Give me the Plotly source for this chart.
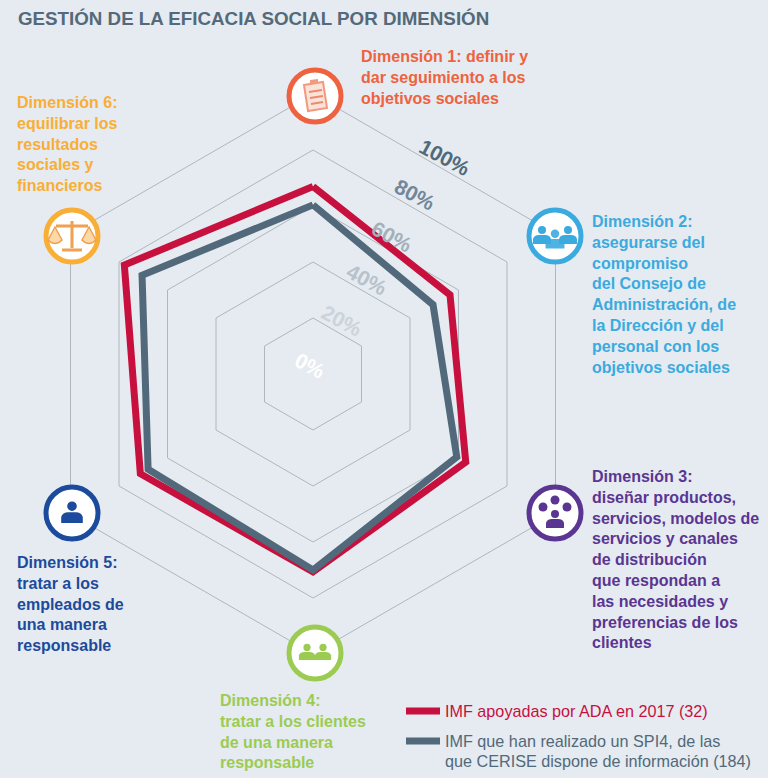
import plotly.graph_objects as go

dimensions = ["Dimensión 1", "Dimensión 2", "Dimensión 3", "Dimensión 4", "Dimensión 5", "Dimensión 6"]
ada_2017 = [67, 56.5, 63, 70.7, 71.2, 77.8]
spi4 = [60.4, 49.5, 59.3, 70, 68, 70.5]
grid_ticks = [20, 40, 60, 80, 100]
scale_labels = ["0%", "20%", "40%", "60%", "80%", "100%"]
scale_colors = ["#ffffff", "#ccd3da", "#b8c2ca", "#a3afb9", "#73879a", "#51697a"]
scale_px = [(310, 365), (342, 320), (367, 279), (392, 236), (415, 194), (445, 157)]

dim_texts = [
    "Dimensión 1: definir y<br>dar seguimiento a los<br>objetivos sociales",
    "Dimensión 2:<br>asegurarse del<br>compromiso<br>del Consejo de<br>Administración, de<br>la Dirección y del<br>personal con los<br>objetivos sociales",
    "Dimensión 3:<br>diseñar productos,<br>servicios, modelos de<br>servicios y canales<br>de distribución<br>que respondan a<br>las necesidades y<br>preferencias de los<br>clientes",
    "Dimensión 4:<br>tratar a los clientes<br>de una manera<br>responsable",
    "Dimensión 5:<br>tratar a los<br>empleados de<br>una manera<br>responsable",
    "Dimensión 6:<br>equilibrar los<br>resultados<br>sociales y<br>financieros",
]
dim_colors = ["#ee6240", "#3baadf", "#5b3592", "#9ccb52", "#1c4a9c", "#f9ae35"]
dim_text_px = [(359, 46), (590, 211), (590, 466), (218, 690), (15, 552), (15, 92)]
icon_px = [(315, 96), (555, 236), (555, 513), (315, 653), (72, 513), (72, 236)]

W, H = 768, 778
CX, CY, R = 313, 374, 280
BG = "#e5ebf0"

fig = go.Figure()
fig.add_trace(go.Scatterpolar(
    r=ada_2017 + ada_2017[:1], theta=dimensions + dimensions[:1], mode="lines",
    line=dict(color="#c8103f", width=7), legendgroup="a",
    name='<span style="color:#c8103f">IMF apoyadas por ADA en 2017 (32)</span>'))
fig.add_trace(go.Scatterpolar(
    r=spi4 + spi4[:1], theta=dimensions + dimensions[:1], mode="lines",
    line=dict(color="#51697a", width=7), legendgroup="b",
    name='<span style="color:#51697a">IMF que han realizado un SPI4, de las</span>'))

# hidden pixel canvas for icons and labels
fig.add_trace(go.Scatter(x=[], y=[], xaxis="x", yaxis="y", showlegend=False))

shapes, annos = [], []
FONT = "Liberation Sans, Arial, sans-serif"

annos.append(dict(x=16, y=18, xref="x", yref="y", xanchor="left", yanchor="middle", showarrow=False,
                  text="<b>GESTIÓN DE LA EFICACIA SOCIAL POR DIMENSIÓN</b>",
                  font=dict(family=FONT, size=18.75, color="#54697a")))
annos.append(dict(x=443, y=761, xref="x", yref="y", xanchor="left", yanchor="middle", showarrow=False,
                  text="que CERISE dispone de información (184)",
                  font=dict(family=FONT, size=16.2, color="#51697a")))
for lab, col, (x, y) in zip(scale_labels, scale_colors, scale_px):
    annos.append(dict(x=x, y=y, xref="x", yref="y", showarrow=False, text="<b>%s</b>" % lab, textangle=28,
                      font=dict(family=FONT, size=21, color=col)))
for txt, col, (x, y) in zip(dim_texts, dim_colors, dim_text_px):
    annos.append(dict(x=x, y=y, xref="x", yref="y", xanchor="left", yanchor="top", align="left", showarrow=False,
                      text="<b>%s</b>" % txt, font=dict(family=FONT, size=16, color=col)))
for col, (x, y) in zip(dim_colors, icon_px):
    shapes.append(dict(type="circle", xref="x", yref="y", x0=x-26, x1=x+26, y0=y-26, y1=y+26,
                       fillcolor="#ffffff", line=dict(color=col, width=5), layer="above"))

def person(x, y, s, col, op=1.0):
    return [
        dict(type="circle", xref="x", yref="y", x0=x-4*s, x1=x+4*s, y0=y-8*s, y1=y, fillcolor=col,
             line=dict(width=0), layer="above", opacity=op),
        dict(type="path", xref="x", yref="y",
             path=f"M{x-9*s},{y+10*s} L{x-9*s},{y+5*s} Q{x-8*s},{y+1*s} {x-3*s},{y+1*s} L{x+3*s},{y+1*s} Q{x+8*s},{y+1*s} {x+9*s},{y+5*s} L{x+9*s},{y+10*s} Z",
             fillcolor=col, line=dict(width=0), layer="above", opacity=op),
    ]

# icon 1: clipboard
x, y = icon_px[0]
shapes.append(dict(type="path", xref="x", yref="y",
                   path=f"M{x-11},{y-11} L{x+8},{y-14} L{x+12},{y+12} L{x-7},{y+15} Z",
                   fillcolor="#fbe3da", line=dict(color="#f09a80", width=2), layer="above"))
shapes.append(dict(type="path", xref="x", yref="y",
                   path=f"M{x-6},{y-4} L{x+7},{y-6} M{x-5},{y+2} L{x+8},{y} M{x-4},{y+8} L{x+8},{y+6}",
                   line=dict(color="#ee8a6c", width=2), layer="above"))
shapes.append(dict(type="path", xref="x", yref="y",
                   path=f"M{x-5},{y-12} L{x+3},{y-14} L{x+3},{y-17} L{x-5},{y-16} Z",
                   fillcolor="#f09a80", line=dict(width=0), layer="above"))
# icon 2: three people
x, y = icon_px[1]
shapes += person(x-13, y-2, 1.0, dim_colors[1]) + person(x, y+2, 1.05, dim_colors[1], .9) + person(x+13, y-2, 1.0, dim_colors[1])
# icon 3: group and round heads
x, y = icon_px[2]
shapes += person(x, y+5, 1.0, dim_colors[2])
for dx, dy in [(-12, -6), (0, -13), (12, -6)]:
    shapes.append(dict(type="circle", xref="x", yref="y", x0=x+dx-4.5, x1=x+dx+4.5, y0=y+dy-4.5, y1=y+dy+4.5,
                       fillcolor=dim_colors[2], line=dict(width=0), layer="above"))
# icon 4: two people
x, y = icon_px[3]
shapes += person(x-8, y-2, .9, dim_colors[3]) + person(x+8, y-2, .9, dim_colors[3])
# icon 5: person
x, y = icon_px[4]
shapes += person(x, y-2, 1.2, dim_colors[4])
# icon 6: scales
x, y = icon_px[5]
c = "#f0a050"
shapes.append(dict(type="path", xref="x", yref="y",
                   path=f"M{x},{y-15} L{x},{y+12} M{x-10},{y+14} L{x+10},{y+14} M{x-16},{y-10} L{x+16},{y-10}",
                   line=dict(color=c, width=3), layer="above"))
for sx in (-1, 1):
    shapes.append(dict(type="path", xref="x", yref="y",
                       path=f"M{x+sx*17},{y-9} L{x+sx*10},{y+4} Q{x+sx*17},{y+11} {x+sx*24},{y+4} Z",
                       fillcolor="#fbd9a8", line=dict(color=c, width=1.5), layer="above"))

fig.update_layout(
    width=W, height=H, autosize=False,
    paper_bgcolor=BG, plot_bgcolor=BG,
    margin=dict(l=0, r=0, t=0, b=0),
    xaxis=dict(range=[0, W], domain=[0, 1], visible=False, fixedrange=True),
    yaxis=dict(range=[H, 0], domain=[0, 1], visible=False, fixedrange=True),
    polar=dict(
        domain=dict(x=[(CX-R)/W, (CX+R)/W], y=[(H-CY-R)/H, (H-CY+R)/H]),
        bgcolor="rgba(0,0,0,0)",
        angularaxis=dict(direction="clockwise", rotation=90, type="category", categoryorder="array",
                         categoryarray=dimensions, showgrid=False, showline=True, linecolor="#aeb6be", linewidth=1,
                         showticklabels=False, ticks=""),
        radialaxis=dict(range=[0, 100], tickvals=grid_ticks, showline=False, showticklabels=False, ticks="",
                        gridcolor="#aeb6be", gridwidth=1),
        gridshape="linear",
    ),
    showlegend=True,
    legend=dict(x=401/W, xanchor="left", y=1-694/H, yanchor="top", bgcolor="rgba(0,0,0,0)",
                font=dict(family=FONT, size=16.2), tracegroupgap=6, itemwidth=34, traceorder="grouped"),
    shapes=shapes, annotations=annos,
)
fig.write_html("out.html", config=dict(displayModeBar=False),
               post_script=f"document.body.style.margin='0';document.documentElement.style.background='{BG}';")
